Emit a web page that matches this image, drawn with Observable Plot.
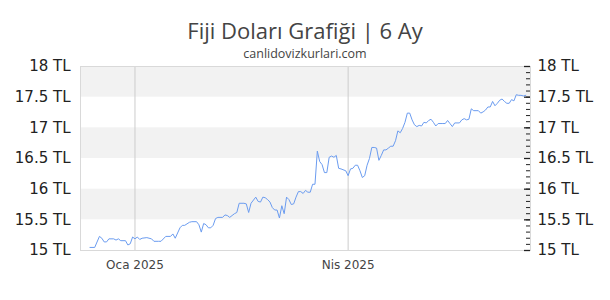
<!DOCTYPE html>
<html>
<head>
<meta charset="utf-8">
<script src="https://cdn.jsdelivr.net/npm/d3@7"></script>
<script src="https://cdn.jsdelivr.net/npm/@observablehq/plot@0.6"></script>
<style>
  html, body { margin: 0; padding: 0; background: #fff; }
  #chart { width: 610px; height: 300px; position: relative; overflow: hidden; }
  #head { position: relative; height: 58px; }
  #title { position: absolute; left: 0; top: 16px; width: 610px; text-align: center;
           font: 22px/28px "Open Sans", sans-serif; color: #444; }
  #sub { position: absolute; left: 0; top: 46px; width: 610px; text-align: center;
         font: 12.5px/16px "Open Sans", sans-serif; color: #444; }
  #plot svg { overflow: visible; }
</style>
</head>
<body>
<div id="chart">
  <div id="head">
    <div id="title">Fiji Doları Grafiği | 6 Ay</div>
    <div id="sub">canlidovizkurlari.com</div>
  </div>
  <div id="plot"></div>
</div>
<script>
// FJD/TRY daily rate, last six months
const dates = [
  "2024-12-13","2024-12-15","2024-12-17","2024-12-18","2024-12-19","2024-12-20","2024-12-21","2024-12-23",
  "2024-12-24","2024-12-25","2024-12-26","2024-12-28","2024-12-29","2024-12-30","2024-12-31",
  "2025-01-01","2025-01-02","2025-01-03","2025-01-04","2025-01-06","2025-01-08","2025-01-09","2025-01-11",
  "2025-01-12","2025-01-14","2025-01-16","2025-01-17","2025-01-18","2025-01-20","2025-01-21","2025-01-22",
  "2025-01-24","2025-01-25","2025-01-27","2025-01-28","2025-01-29","2025-01-30","2025-01-31",
  "2025-02-01","2025-02-02","2025-02-03","2025-02-04","2025-02-05","2025-02-07","2025-02-08","2025-02-09",
  "2025-02-10","2025-02-11","2025-02-12","2025-02-13","2025-02-14","2025-02-16","2025-02-17","2025-02-18",
  "2025-02-19","2025-02-21","2025-02-22","2025-02-23","2025-02-24","2025-02-25","2025-02-26","2025-02-27",
  "2025-02-28","2025-03-01","2025-03-02","2025-03-03","2025-03-04","2025-03-05","2025-03-06","2025-03-07",
  "2025-03-08","2025-03-09","2025-03-10","2025-03-11","2025-03-12","2025-03-13","2025-03-14","2025-03-15",
  "2025-03-16","2025-03-17","2025-03-18","2025-03-19","2025-03-20","2025-03-21","2025-03-22","2025-03-23",
  "2025-03-24","2025-03-25","2025-03-26","2025-03-27","2025-03-28","2025-03-29","2025-03-31",
  "2025-04-01","2025-04-02","2025-04-03","2025-04-04","2025-04-05","2025-04-06","2025-04-07","2025-04-08",
  "2025-04-09","2025-04-10","2025-04-11","2025-04-12","2025-04-13","2025-04-14","2025-04-15","2025-04-16",
  "2025-04-17","2025-04-18","2025-04-19","2025-04-20","2025-04-21","2025-04-22","2025-04-23","2025-04-24",
  "2025-04-25","2025-04-26","2025-04-27","2025-04-28","2025-04-29","2025-04-30",
  "2025-05-01","2025-05-02","2025-05-03","2025-05-04","2025-05-05","2025-05-06","2025-05-07","2025-05-08",
  "2025-05-09","2025-05-11","2025-05-12","2025-05-13","2025-05-14","2025-05-15","2025-05-16","2025-05-18",
  "2025-05-19","2025-05-20","2025-05-21","2025-05-22","2025-05-23","2025-05-24","2025-05-25","2025-05-26",
  "2025-05-27","2025-05-28","2025-05-29","2025-05-30","2025-05-31",
  "2025-06-01","2025-06-02","2025-06-03","2025-06-04","2025-06-05","2025-06-06","2025-06-07","2025-06-08",
  "2025-06-09","2025-06-10","2025-06-11","2025-06-12","2025-06-13","2025-06-14","2025-06-15"
];
const rates = [
  15.05,15.05,15.23,15.20,15.14,15.14,15.19,15.19,
  15.17,15.19,15.16,15.16,15.09,15.11,15.22,
  15.19,15.22,15.18,15.20,15.21,15.19,15.15,15.15,
  15.15,15.23,15.23,15.27,15.20,15.37,15.41,15.41,
  15.46,15.47,15.47,15.42,15.30,15.44,15.42,
  15.37,15.37,15.41,15.52,15.54,15.54,15.58,15.57,
  15.54,15.57,15.60,15.62,15.77,15.77,15.76,15.62,
  15.77,15.87,15.80,15.79,15.87,15.86,15.83,15.79,
  15.70,15.66,15.66,15.53,15.73,15.60,15.87,15.83,
  15.75,15.76,15.87,15.96,15.96,15.93,15.98,15.95,
  15.95,16.08,16.08,16.62,16.45,16.40,16.27,16.27,
  16.52,16.54,16.52,16.55,16.34,16.33,16.30,
  16.22,16.33,16.34,16.39,16.39,16.30,16.19,16.22,
  16.39,16.50,16.68,16.68,16.67,16.47,16.55,16.64,
  16.64,16.67,16.70,16.70,16.79,16.95,16.92,16.99,
  17.09,17.24,17.24,17.13,17.05,17.02,
  17.04,17.03,17.09,17.08,17.12,17.14,17.09,17.03,
  17.07,17.07,17.07,17.12,17.07,17.02,17.08,17.08,
  17.13,17.15,17.13,17.14,17.31,17.28,17.28,17.28,
  17.24,17.26,17.29,17.34,17.34,
  17.43,17.36,17.40,17.45,17.47,17.43,17.40,17.40,
  17.46,17.44,17.54,17.53,17.53,17.52,17.53
];

// axis ticks and labels
const xTickDates = ["2025-01-01", "2025-04-01"];
const xTickLabels = ["Oca 2025", "Nis 2025"];
const yTicks = [15, 15.5, 16, 16.5, 17, 17.5, 18];
const yMinorTicks = d3.range(150, 181).map(i => i / 10);
const bandLow = [15.5, 16.5, 17.5];   // shaded half-unit bands
const bandHigh = [16, 17, 18];

const series = dates.map((d, i) => ({date: new Date(d), rate: rates[i]}));
const tickDates = xTickDates.map(d => new Date(d));
const bands = bandLow.map((lo, i) => ({lo, hi: bandHigh[i]}));
const labelOf = new Map(tickDates.map((d, i) => [+d, xTickLabels[i]]));

const chart = Plot.plot({
  width: 610,
  height: 242,
  marginTop: 8,
  marginBottom: 50,
  marginLeft: 80,
  marginRight: 80,
  style: {background: "transparent", fontFamily: "DejaVu Sans, sans-serif"},
  x: {type: "utc", domain: [new Date("2024-12-09"), new Date("2025-06-17")]},
  y: {domain: [15, 18]},
  marks: [
    Plot.rectY(bands, {y1: "lo", y2: "hi", fill: "#f2f2f2"}),
    Plot.ruleX(tickDates, {stroke: "#cccccc", strokeWidth: 1}),
    Plot.frame({stroke: "#d9d9d9"}),
    Plot.tickY(yMinorTicks, {stroke: "#222", strokeWidth: 1, insetLeft: 446}),
    Plot.tickY(yTicks, {stroke: "#222", strokeWidth: 1.3, insetLeft: 444}),
    Plot.lineY(series, {x: "date", y: "rate", stroke: "#6b9cf0", strokeWidth: 1}),
    Plot.axisY(yTicks, {anchor: "left", tickSize: 0, tickPadding: 10,
      tickFormat: d => `${d} TL`, fontSize: 15, fill: "#222", label: null}),
    Plot.axisY(yTicks, {anchor: "right", tickSize: 0, tickPadding: 7,
      tickFormat: d => `${d} TL`, fontSize: 15, fill: "#222", label: null}),
    Plot.axisX(tickDates, {anchor: "bottom", tickSize: 0, tickPadding: 10,
      tickFormat: d => labelOf.get(+d), fontSize: 12, fill: "#444", label: null})
  ]
});
document.getElementById("plot").appendChild(chart);
</script>
</body>
</html>
